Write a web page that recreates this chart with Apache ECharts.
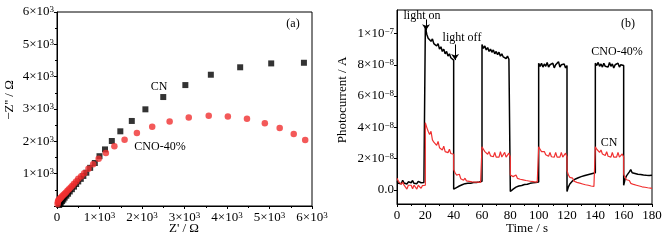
<!DOCTYPE html>
<html lang="en">
<head>
<meta charset="UTF-8">
<script src="https://cdn.jsdelivr.net/npm/echarts@6/dist/echarts.min.js"></script>
<style>
  html, body { margin: 0; padding: 0; background: #fff; }
  #chart { width: 670px; height: 240px; }
</style>
</head>
<body>
<div id="chart"></div>
<script>
// (a) Nyquist plot, Ω
var cnRe  = [50, 70, 90, 120, 150, 180, 220, 260, 300, 350, 400, 450, 500, 560, 620, 690, 780, 890, 1000, 1130, 1290, 1490, 1760, 2080, 2500, 3020, 3620, 4310, 5040, 5810];
var cnIm  = [30, 60, 100, 150, 200, 260, 320, 380, 450, 520, 600, 680, 760, 840, 930, 1030, 1180, 1330, 1540, 1750, 2010, 2310, 2630, 2990, 3370, 3740, 4060, 4290, 4410, 4430];
var cnoRe = [15, 20, 30, 50, 70, 95, 120, 150, 180, 210, 245, 280, 320, 360, 400, 450, 500, 570, 640, 740, 850, 980, 1150, 1350, 1590, 1880, 2240, 2650, 3100, 3570, 4020, 4470, 4890, 5240, 5570, 5840];
var cnoIm = [60, 120, 170, 200, 230, 260, 300, 340, 380, 420, 470, 520, 570, 630, 690, 760, 840, 920, 1010, 1150, 1290, 1460, 1640, 1850, 2050, 2260, 2450, 2610, 2740, 2790, 2770, 2700, 2560, 2410, 2230, 2040];

// (b) photocurrent, units of 1e-8 A, one row per 20 s period sampled every 1 s
var periodStart = [0, 20, 40, 60, 80, 100, 120, 140, 160];
var cnoCurrent = [
  [0.55,0.42,0.48,0.40,0.62,0.44,0.45,0.38,0.52,0.44,0.46,0.60,0.42,0.45,0.40,0.55,0.44,0.46,0.40,0.48,0.45],
  [10.45,9.95,9.7,9.8,9.5,9.65,9.35,9.45,9.2,9.35,9.0,9.15,8.85,9.0,8.7,8.85,8.55,8.7,8.45,8.5,8.3],
  [0.05,0.08,0.15,0.22,0.25,0.3,0.33,0.35,0.4,0.38,0.42,0.45,0.43,0.47,0.48,0.5,0.47,0.52,0.5,0.55,0.55],
  [9.3,9.05,9.2,8.95,9.1,8.85,9.0,8.8,8.95,8.7,8.85,8.65,8.8,8.55,8.7,8.5,8.6,8.4,8.55,8.35,8.3],
  [-0.1,-0.05,0.05,0.12,0.18,0.22,0.25,0.3,0.28,0.33,0.35,0.38,0.36,0.4,0.42,0.4,0.45,0.43,0.47,0.45,0.5],
  [8.1,7.9,8.1,7.85,8.05,7.9,8.15,7.85,8.0,7.9,8.1,7.8,8.0,7.95,8.2,7.85,8.0,7.9,8.05,7.8,7.95],
  [-0.1,0.2,0.38,0.5,0.58,0.65,0.7,0.75,0.78,0.82,0.85,0.88,0.9,0.93,0.95,0.98,1.0,1.03,1.05,1.08,1.1],
  [8.1,7.95,8.15,7.9,8.05,7.85,8.1,7.9,8.0,7.85,8.15,7.9,8.05,7.8,8.0,7.95,8.1,7.85,8.0,7.9,7.95],
  [0.3,0.7,0.9,1.0,1.15,1.3,1.1,1.15,1.05,1.1,1.0,1.05,0.98,1.0,0.95,0.98,0.93,0.95,0.92,0.95,0.93]
];
var cnCurrent = [
  [0.75,0.55,0.6,0.35,0.5,0.3,0.32,0.05,0.3,0.28,0.3,0.08,0.3,0.28,0.05,0.3,0.3,0.1,0.28,0.3,0.3],
  [4.3,4.0,3.75,3.55,3.75,3.2,3.05,2.95,2.85,3.1,2.7,2.62,2.55,2.8,2.45,2.42,2.38,2.6,2.33,2.3,2.28],
  [1.3,1.1,0.95,0.85,1.0,0.72,0.66,0.62,0.75,0.58,0.56,0.55,0.65,0.52,0.52,0.5,0.6,0.5,0.5,0.48,0.48],
  [2.75,2.6,2.45,2.35,2.28,2.45,2.18,2.15,2.12,2.4,2.1,2.1,2.1,2.45,2.1,2.1,2.4,2.1,2.1,2.35,2.1],
  [0.95,0.88,0.85,0.8,0.95,0.74,0.7,0.68,0.8,0.64,0.62,0.6,0.72,0.57,0.55,0.54,0.65,0.52,0.5,0.5,0.48],
  [2.75,2.6,2.45,2.35,2.45,2.25,2.2,2.15,2.4,2.12,2.1,2.1,2.4,2.1,2.1,2.1,2.4,2.1,2.1,2.35,2.1],
  [1.25,0.95,0.8,0.7,0.75,0.55,0.5,0.48,0.55,0.43,0.4,0.38,0.45,0.33,0.3,0.3,0.4,0.25,0.24,0.22,0.2],
  [2.75,2.6,2.5,2.4,2.55,2.3,2.25,2.2,2.45,2.15,2.12,2.1,2.4,2.1,2.1,2.1,2.4,2.1,2.1,2.3,2.1],
  [1.0,0.8,0.65,0.55,0.6,0.42,0.38,0.35,0.42,0.3,0.28,0.25,0.3,0.2,0.18,0.17,0.22,0.14,0.13,0.12,0.1]
];
var currentTicks = [0, 2, 4, 6, 8, 10];

function zip(xs, ys) {
  var out = [];
  for (var i = 0; i < xs.length; i++) out.push([xs[i], ys[i]]);
  return out;
}
function periods(rows) {
  var out = [];
  rows.forEach(function (row, p) {
    row.forEach(function (v, k) { out.push([periodStart[p] + k, v]); });
  });
  return out;
}

var FONT = '"Liberation Serif", "Times New Roman", serif';
var rich = {
  b: { fontFamily: FONT, fontSize: 13, color: '#000' },
  s: { fontFamily: FONT, fontSize: 9, color: '#000', verticalAlign: 'top' }
};
function nyqLabel(v) {
  if (v === 0) return '{b|0}';
  return '{b|' + (v / 1000) + '×10}{s|3}';
}
function curLabel(v) {
  if (v === 0) return '{b|0.0}';
  if (v === 10) return '{b|1×10}{s|−7}';
  return '{b|' + v + '×10}{s|−8}';
}
function txt(x, y, s, size, rot) {
  return {
    type: 'text', x: x, y: y, rotation: rot || 0, silent: true,
    style: { text: s, font: size + 'px ' + FONT, fill: '#000',
      align: 'center', verticalAlign: 'middle', textAlign: 'center', textVerticalAlign: 'middle' }
  };
}

var axisBase = {
  axisLine: { show: true, onZero: false, lineStyle: { color: '#000', width: 1 } },
  axisTick: { show: true, inside: false, length: 3, lineStyle: { color: '#000' } },
  minorTick: { show: true, splitNumber: 2, length: 2, lineStyle: { color: '#000' } },
  splitLine: { show: false }
};

var chart = echarts.init(document.getElementById('chart'), null, { renderer: 'canvas' });
chart.setOption({
  backgroundColor: '#fff',
  animation: false,
  grid: [
    { left: 57, top: 12, width: 255, height: 194, show: true, borderColor: '#000', borderWidth: 1, backgroundColor: 'transparent' },
    { left: 397, top: 10, width: 255, height: 194, show: true, borderColor: '#000', borderWidth: 1, backgroundColor: 'transparent' }
  ],
  xAxis: [
    Object.assign({}, axisBase, {
      type: 'value', gridIndex: 0, min: 0, max: 6000, interval: 1000,
      axisLabel: { margin: 5, formatter: nyqLabel, rich: rich }
    }),
    Object.assign({}, axisBase, {
      type: 'value', gridIndex: 1, min: 0, max: 180, interval: 20,
      axisLabel: { margin: 5, fontFamily: FONT, fontSize: 13, color: '#000' }
    })
  ],
  yAxis: [
    Object.assign({}, axisBase, {
      type: 'value', gridIndex: 0, min: 0, max: 6000, interval: 1000,
      axisLabel: { margin: 3, showMinLabel: false, formatter: nyqLabel, rich: rich }
    }),
    Object.assign({}, axisBase, {
      type: 'value', gridIndex: 1, min: -0.9, max: 11.5,
      minorTick: { show: false },
      axisTick: { show: true, inside: false, length: 3, lineStyle: { color: '#000' }, customValues: currentTicks },
      axisLabel: { margin: 3, formatter: curLabel, rich: rich, customValues: currentTicks }
    })
  ],
  series: [
    {
      name: 'CN', type: 'scatter', xAxisIndex: 0, yAxisIndex: 0,
      symbol: 'rect', symbolSize: 6, itemStyle: { color: '#000' },
      data: zip(cnRe, cnIm)
    },
    {
      name: 'CNO-40%', type: 'scatter', xAxisIndex: 0, yAxisIndex: 0,
      symbol: 'circle', symbolSize: 6.5, itemStyle: { color: '#f03030' },
      data: zip(cnoRe, cnoIm)
    },
    {
      name: 'CNO-40% current', type: 'line', xAxisIndex: 1, yAxisIndex: 1,
      showSymbol: false, lineStyle: { color: '#000', width: 1.5 },
      data: periods(cnoCurrent),
      markLine: {
        silent: true, symbol: ['none', 'arrow'], symbolSize: 6,
        label: { show: false },
        lineStyle: { color: '#000', width: 1, type: 'solid' },
        data: [
          [{ coord: [20.5, 10.9] }, { coord: [20.5, 10.2] }],
          [{ coord: [41, 9.3] }, { coord: [41, 8.3] }]
        ]
      }
    },
    {
      name: 'CN current', type: 'line', xAxisIndex: 1, yAxisIndex: 1,
      showSymbol: false, lineStyle: { color: '#f03030', width: 1.2 },
      data: periods(cnCurrent)
    }
  ],
  graphic: [
    txt(10, 100, "−Z'' / Ω", 13, Math.PI / 2),
    txt(184, 229, "Z' / Ω", 13),
    txt(343, 100, 'Photocurrent / A', 13, Math.PI / 2),
    txt(527, 229, 'Time / s', 13),
    txt(293, 24, '(a)', 12),
    txt(628, 24, '(b)', 12),
    txt(159, 87, 'CN', 12),
    txt(160, 147, 'CNO-40%', 12),
    txt(617, 52, 'CNO-40%', 12),
    txt(609, 143, 'CN', 12),
    txt(422, 16, 'light on', 12),
    txt(462, 38, 'light off', 12)
  ]
});
</script>
</body>
</html>
